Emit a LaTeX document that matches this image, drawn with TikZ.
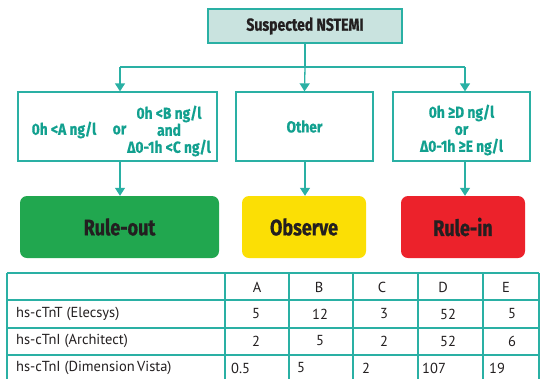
\documentclass[tikz,border=0pt]{standalone}
\usepackage{fontspec}
\usetikzlibrary{arrows.meta}
\newfontfamily\condb{Fira Sans}[FakeStretch=0.86,FakeBold=0.6]
\newfontfamily\condc{Fira Sans}[FakeStretch=0.8,FakeBold=0.8]
\newfontfamily\tabf{PT Sans}
\definecolor{tealline}{HTML}{2AB0A4}
\definecolor{tealtext}{HTML}{12A08F}
\definecolor{topfill}{HTML}{C9E3DF}
\definecolor{gbox}{HTML}{21A74F}
\definecolor{ybox}{HTML}{FBDF05}
\definecolor{rbox}{HTML}{EC222B}
\definecolor{dtext}{HTML}{231F20}
\begin{document}
\begin{tikzpicture}[x=1pt,y=-1pt,
  tl/.style={draw=tealline,line width=1.3pt},
  arr/.style={tl,-{Triangle[width=10pt,length=8pt]}},
  ttxt/.style={text=tealtext,inner sep=0pt,align=center,
    font=\condb\bfseries\fontsize{16}{17}\selectfont},
  cbox/.style={tl,rectangle,inner sep=0pt,minimum height=69pt,ttxt},
  rbx/.style={rectangle,rounded corners=7pt,inner sep=0pt,minimum height=62pt,
    text=dtext,font=\condc\bfseries\fontsize{22.5}{26}\selectfont},
  tabtxt/.style={font=\tabf\fontsize{14.5}{16}\selectfont,inner sep=0pt,text=dtext}
]
\useasboundingbox (0,0) rectangle (540,378);
\node[tl,rectangle,fill=topfill,inner sep=0pt,minimum width=194pt,minimum height=34pt,
  text=dtext,font=\condc\bfseries\fontsize{17.5}{19}\selectfont] (top) at (305,26) {Suspected NSTEMI};
\node[cbox,minimum width=199pt] (lbox) at (117.5,126.5) {};
\node[cbox,minimum width=137pt] (mbox) at (304.5,126.5) {Other};
\node[cbox,minimum width=137pt] (rbox) at (461.5,126.5) {};
\node[ttxt] (rt) at (461.5,130) {0h ≥D ng/l\\or\\Δ0-1h ≥E ng/l};
\node[ttxt] (la) at (64,130) {0h <A ng/l};
\node[ttxt] (lor) at (119.5,130) {or};
\node[ttxt] (lb) at (169,131) {0h <B ng/l\\and\\Δ0-1h <C ng/l};
\node[rbx,fill=gbox,minimum width=199pt] (g) at (119.5,227) {Rule-out};
\node[rbx,fill=ybox,minimum width=124pt] (y) at (304,227) {Observe};
\node[rbx,fill=rbox,minimum width=124pt] (r) at (463,227) {Rule-in};
\coordinate (jl) at (120,67);
\coordinate (jr) at (465,67);
\coordinate (jm) at (305,67);
\draw[tl] (jl) -- (jr);
\draw[tl] (top.south) -- (jm);
\draw[arr] (jm) -- (mbox.north);
\draw[arr] (jl) -- (lbox.north -| jl);
\draw[arr] (jr) -- (rbox.north -| jr);
\draw[arr] (lbox.south -| jl) -- (g.north -| jl);
\draw[arr] (mbox.south -| jm) -- (y.north -| jm);
\draw[arr] (rbox.south -| jr) -- (r.north -| jr);
% table
\begin{scope}
\clip (0,0) rectangle (540,378);
\draw[tl] (7,273) -- (539,273);
\draw[tl] (7,300) -- (539,300);
\draw[tl] (7,328) -- (539,328);
\draw[tl] (7,355) -- (539,355);
\foreach \x in {7,225,289,353,418,483,539} \draw[tl] (\x,273) -- (\x,385);
\end{scope}
\node[tabtxt] (hA) at (257,287) {A};
\node[tabtxt] (hB) at (319,287) {B};
\node[tabtxt] (hC) at (382,287) {C};
\node[tabtxt] (hD) at (443,287) {D};
\node[tabtxt] (hE) at (506,287) {E};
\node[tabtxt,anchor=west] (r1) at (16,314) {hs-cTnT (Elecsys)};
\node[tabtxt,anchor=west] (r2) at (16,341) {hs-cTnI (Architect)};
\node[tabtxt,anchor=west] (r3) at (16,368) {hs-cTnI (Dimension\,Vista)};
\node[tabtxt] (a1) at (256,314) {5};
\node[tabtxt] (b1) at (320,314) {12};
\node[tabtxt] (c1) at (384,314) {3};
\node[tabtxt] (d1) at (448,314) {52};
\node[tabtxt] (e1) at (512,314) {5};
\node[tabtxt] (a2) at (256,341) {2};
\node[tabtxt] (b2) at (320,341) {5};
\node[tabtxt] (c2) at (384,341) {2};
\node[tabtxt] (d2) at (448,341) {52};
\node[tabtxt] (e2) at (512,341) {6};
\node[tabtxt,anchor=west] (a3) at (231,368) {0.5};
\node[tabtxt,anchor=west] (b3) at (297,368) {5};
\node[tabtxt,anchor=west] (c3) at (362,368) {2};
\node[tabtxt,anchor=west] (d3) at (422,368) {107};
\node[tabtxt,anchor=west] (e3) at (489,368) {19};
\end{tikzpicture}
\end{document}
